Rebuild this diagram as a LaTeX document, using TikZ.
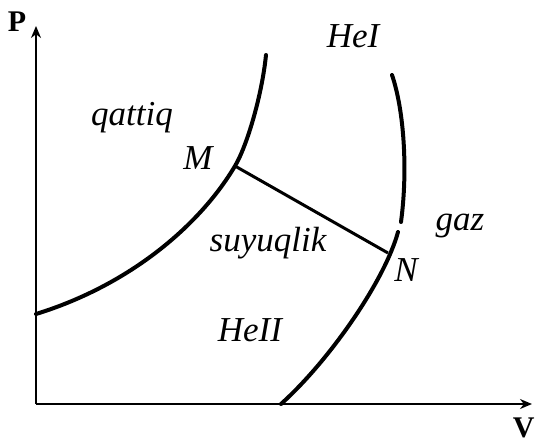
\documentclass[tikz,border=0pt]{standalone}
\usepackage{fontspec}
\setmainfont{Liberation Serif}
\usetikzlibrary{arrows.meta}
\begin{document}
\begin{tikzpicture}[x=0.5pt,y=-0.5pt,
  lbl/.style={font=\fontsize{17.5}{20}\selectfont\itshape, inner sep=0pt},
  axlbl/.style={font=\fontsize{15}{18}\selectfont\bfseries, inner sep=0pt},
  curve/.style={line width=2pt, line cap=round},
  axis/.style={line width=1pt, -{Stealth[length=6pt,width=5pt]}}]
\useasboundingbox (0,0) rectangle (538,441);
% axes
\coordinate (O) at (36,404);
\coordinate (Ptop) at (36,26);
\coordinate (Vend) at (532,404);
\draw[axis] (O) -- (Ptop);
\draw[axis] (O) -- (Vend);
\node[axlbl] (P) at (17,22) {P};
\node[axlbl, anchor=south east] (V) at (535,438) {V};
% points
\coordinate (M) at (235,166);
\coordinate (N) at (388,253);
% left curve
\draw[curve] (36,314) .. controls (130,285) and (200,225) .. (M)
  .. controls (247,146) and (262,95) .. (266,55);
% right curve (with a small break above N)
\draw[curve] (392,75) .. controls (404,110) and (408,170) .. (401,222);
\draw[curve] (398,232) .. controls (385,280) and (330,360) .. (281,404);
% tie line
\draw[line width=1.5pt] (M) -- (N);
% labels
\node[lbl] (qattiq) at (132,118) {qattiq};
\node[lbl] (Mlbl) at (198,158) {M};
\node[lbl] (HeI) at (353,36) {HeI};
\node[lbl] (gaz) at (460,226) {gaz};
\node[lbl] (suyuqlik) at (268,243) {suyuqlik};
\node[lbl] (Nlbl) at (406,270) {N};
\node[lbl] (HeII) at (250,330) {HeII};
\end{tikzpicture}
\end{document}
